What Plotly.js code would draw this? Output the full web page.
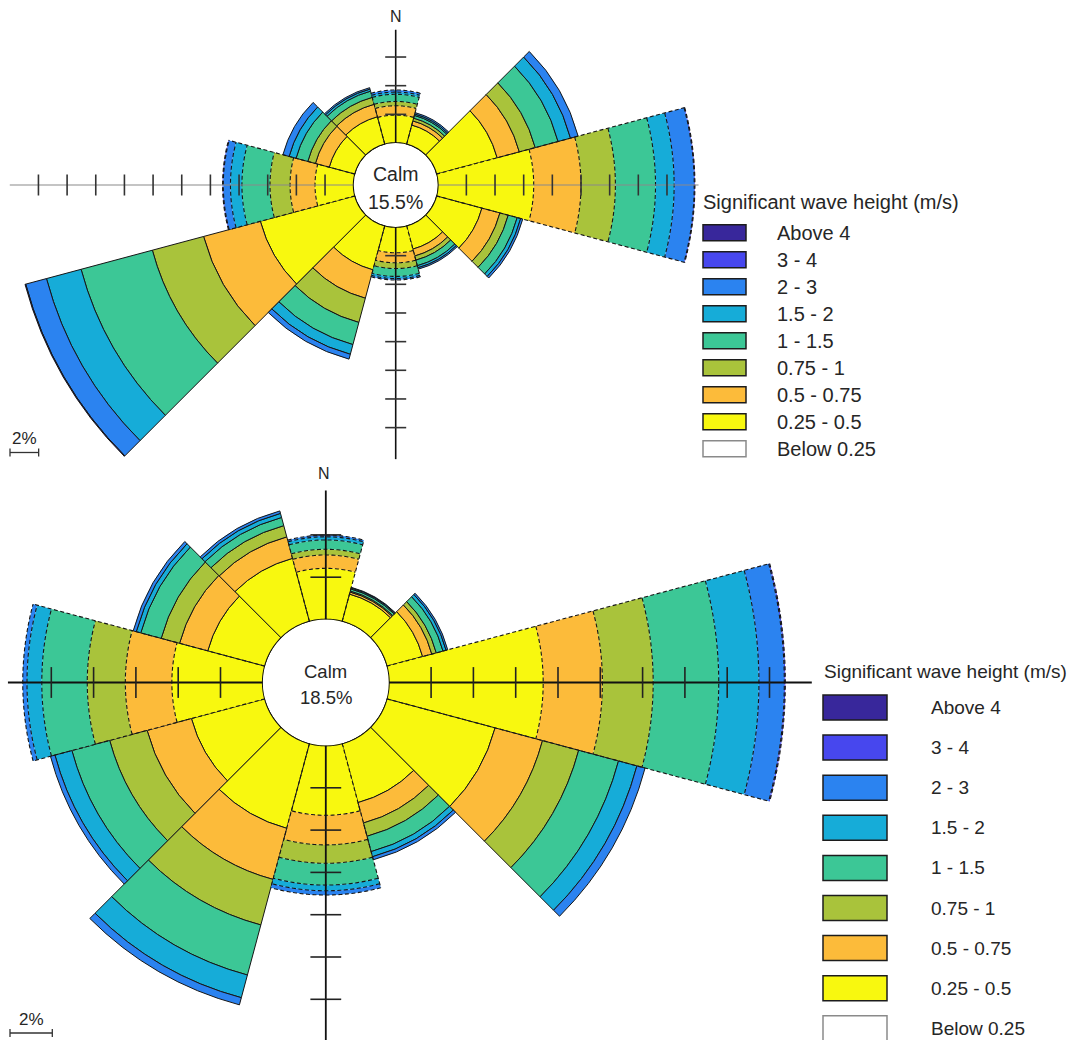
<!DOCTYPE html>
<html>
<head>
<meta charset="utf-8">
<script src="https://cdn.plot.ly/plotly-3.0.1.min.js"></script>
<style>
  html, body { margin: 0; padding: 0; overflow: hidden; background: #fff; width: 1069px; height: 1040px; }
  #rose { position: absolute; left: -170px; top: -210px; width: 1239px; height: 1395px; }
</style>
</head>
<body>
<div id="rose"></div>
<script>
// Sector directions (degrees clockwise from north), 30-degree bins
const directions = [0, 30, 60, 90, 120, 150, 180, 210, 240, 270, 300, 330];
// Cardinal sectors are outlined with dashed strokes
const dashedDirections = [0, 90, 180, 270];

// Significant wave height classes, innermost ring first
const classes = ['Below 0.25', '0.25 - 0.5', '0.5 - 0.75', '0.75 - 1', '1 - 1.5', '1.5 - 2', '2 - 3', '3 - 4', 'Above 4'];
const classColors = ['#ffffff', '#f8f80f', '#fcbb3a', '#a9c33b', '#3cc796', '#16acd8', '#2b83f0', '#4747ee', '#38279b'];

// Upper rose: frequency of occurrence (%) per class and direction
const upperBelow025 = [0, 0, 0, 0, 0, 0, 0, 0, 0, 0, 0, 0];
const upper025to05  = [1.95, 1.40, 4.40, 6.70, 3.30, 1.70, 1.80, 3.20, 6.85, 2.70, 1.87, 2.00];
const upper05to075  = [0.65, 0.30, 1.60, 3.30, 1.30, 0.50, 0.70, 2.05, 4.10, 1.74, 1.00, 0.90];
const upper075to1   = [0.30, 0.20, 1.15, 2.40, 0.60, 0.30, 0.40, 1.75, 3.70, 1.40, 0.55, 0.50];
const upper1to15    = [0.50, 0.20, 1.65, 2.80, 0.65, 0.40, 0.55, 1.60, 5.15, 1.96, 0.85, 0.45];
const upper15to2    = [0.15, 0.10, 0.90, 1.30, 0.25, 0.15, 0.15, 0.70, 2.50, 0.80, 0.50, 0.15];
const upper2to3     = [0.15, 0.10, 0.55, 1.40, 0.15, 0.10, 0.10, 0.35, 1.50, 0.50, 0.45, 0.10];
const upper3to4     = [0, 0, 0, 0.05, 0, 0, 0, 0, 0.05, 0.05, 0, 0];
const upperAbove4   = [0, 0, 0, 0, 0, 0, 0, 0, 0, 0, 0, 0];
const upperCalm = 15.5;

// Lower rose: frequency of occurrence (%) per class and direction
const lowerBelow025 = [0, 0, 0, 0, 0, 0, 0, 0, 0, 0, 0, 0];
const lower025to05  = [2.42, 1.35, 1.76, 7.30, 5.31, 2.90, 3.30, 4.16, 3.60, 4.30, 2.80, 3.10];
const lower05to075  = [0.63, 0.10, 0.45, 2.80, 2.32, 1.00, 1.40, 2.50, 2.17, 2.20, 1.38, 1.05];
const lower075to1   = [0.27, 0.05, 0.22, 2.40, 1.77, 0.65, 0.87, 2.23, 1.83, 1.80, 0.90, 0.55];
const lower1to15    = [0.44, 0.10, 0.33, 3.10, 1.95, 0.75, 1.03, 2.45, 1.85, 2.15, 1.00, 0.40];
const lower15to2    = [0.15, 0.05, 0.15, 1.90, 0.90, 0.25, 0.27, 1.11, 0.83, 0.70, 0.22, 0.20];
const lower2to3     = [0.08, 0.03, 0.08, 1.20, 0.40, 0.15, 0.20, 0.35, 0.22, 0.20, 0.15, 0.12];
const lower3to4     = [0, 0, 0, 0.05, 0, 0, 0, 0, 0, 0, 0, 0];
const lowerAbove4   = [0, 0, 0, 0, 0, 0, 0, 0, 0, 0, 0, 0];
const lowerCalm = 18.5;

// Axis cross: tick spacing (%) and reach of each arm (N, E, S, W) in %
const tickValues = [2, 4, 6, 8, 10, 12, 14, 16, 18, 20, 22, 24];
const axisAngles = [0, 90, 180, 270];
const upperAxisReach = [7.9, 18.2, 16.2, 24.0];
const lowerAxisReach = [6.1, 20.0, 14.6, 12.05];
const scaleBarPct = 2;

const upperSeries = [upperBelow025, upper025to05, upper05to075, upper075to1, upper1to15, upper15to2, upper2to3, upper3to4, upperAbove4];
const lowerSeries = [lowerBelow025, lower025to05, lower05to075, lower075to1, lower1to15, lower15to2, lower2to3, lower3to4, lowerAbove4];

// ---- page geometry (pixels in the visible window) ----
const PAGE = { left: -170, top: -210, w: 1239, h: 1395 };
const fx = x => (x - PAGE.left) / PAGE.w;
const fy = y => 1 - (y - PAGE.top) / PAGE.h;

const upperGeom = { cx: 395.7, cy: 185, hole: 42, pxPerPct: 14.33, outer: 392, tick: 15,
  hColor: '#8a8a8a', vColor: '#111', hWidth: 1.2, vWidth: 1.6, tickColor: '#333',
  nY: 16, nX: 396, calmY: [174, 202], calmFont: 19.5, scaleY: 452.5, scaleTextY: 438, scaleFont: 17,
  legendFont: 20 };
const lowerGeom = { cx: 325.8, cy: 682.5, hole: 63, pxPerPct: 21.15, outer: 490, tick: 22,
  hColor: '#111', vColor: '#111', hWidth: 2, vWidth: 1.8, tickColor: '#222',
  nY: 473, nX: 324, calmY: [671.5, 697], calmFont: 18.5, scaleY: 1033, scaleTextY: 1019, scaleFont: 17,
  legendFont: 19 };

function polarLayout(g) {
  return {
    domain: { x: [fx(g.cx - g.outer), fx(g.cx + g.outer)], y: [fy(g.cy + g.outer), fy(g.cy - g.outer)] },
    hole: g.hole / g.outer,
    bgcolor: 'rgba(0,0,0,0)',
    barmode: 'stack',
    bargap: 0,
    radialaxis: { range: [0, (g.outer - g.hole) / g.pxPerPct], visible: false, showgrid: false, showline: false, showticklabels: false, ticks: '' },
    angularaxis: { rotation: 90, direction: 'clockwise', visible: false, showgrid: false, showline: false, showticklabels: false, ticks: '' }
  };
}

const FONT = 'Liberation Sans, Arial, sans-serif';
const OUTLINE = '#161616';
const data = [];

function addRose(subplot, series) {
  const widths = directions.map(d => dashedDirections.includes(d) ? 0 : 1);
  series.forEach((vals, i) => {
    data.push({
      type: 'barpolar', subplot: subplot, name: classes[i],
      r: vals, theta: directions, width: directions.map(() => 30),
      marker: { color: classColors[i], line: { color: OUTLINE, width: widths } },
      showlegend: false, hoverinfo: 'skip'
    });
  });
}

// dashed outlines of the cardinal sectors: band arcs and both side edges
function addDashedOutlines(subplot, series) {
  directions.forEach((dir, j) => {
    if (!dashedDirections.includes(dir)) return;
    const r = [], t = [];
    let cum = 0, last = 0;
    series.forEach(s => {
      cum += s[j];
      if (cum - last > 1e-6) {
        for (let a = -15; a <= 15; a += 1) { r.push(cum); t.push(dir + a); }
        r.push(null); t.push(null);
        last = cum;
      }
    });
    [-15, 15].forEach(a => { r.push(0, cum, null); t.push(dir + a, dir + a, null); });
    data.push({
      type: 'scatterpolar', subplot: subplot, mode: 'lines', r: r, theta: t,
      connectgaps: false,
      line: { color: OUTLINE, width: 1.1, dash: '4px,2.5px' },
      showlegend: false, hoverinfo: 'skip'
    });
  });
}

function addAxes(subplot, reach, g) {
  axisAngles.forEach((ang, k) => {
    const horizontal = (ang === 90 || ang === 270);
    data.push({
      type: 'scatterpolar', subplot: subplot, mode: 'lines',
      r: [0, reach[k]], theta: [ang, ang],
      line: { color: horizontal ? g.hColor : g.vColor, width: horizontal ? g.hWidth : g.vWidth },
      showlegend: false, hoverinfo: 'skip'
    });
    const ticks = tickValues.filter(t => t < reach[k] - 0.3);
    data.push({
      type: 'scatterpolar', subplot: subplot, mode: 'markers',
      r: ticks, theta: ticks.map(() => ang),
      marker: { symbol: horizontal ? 'line-ns' : 'line-ew', size: g.tick,
        line: { color: g.tickColor, width: 1.6 } },
      showlegend: false, hoverinfo: 'skip'
    });
  });
  // outline of the calm circle
  const ring = Array.from({ length: 181 }, (_, i) => i * 2);
  data.push({
    type: 'scatterpolar', subplot: subplot, mode: 'lines',
    r: ring.map(() => 0), theta: ring,
    line: { color: '#111', width: 1.8 }, showlegend: false, hoverinfo: 'skip'
  });
}

addRose('polar', upperSeries);
addRose('polar2', lowerSeries);
addDashedOutlines('polar', upperSeries);
addDashedOutlines('polar2', lowerSeries);
addAxes('polar', upperAxisReach, upperGeom);
addAxes('polar2', lowerAxisReach, lowerGeom);

const annotations = [];
const shapes = [];

function txt(text, x, y, size, anchor) {
  annotations.push({ text: text, x: fx(x), y: fy(y), xref: 'paper', yref: 'paper',
    xanchor: anchor || 'center', yanchor: 'middle', showarrow: false,
    font: { family: FONT, size: size, color: '#262626' } });
}

function decorate(g, calm) {
  txt('N', g.nX, g.nY, 16);
  txt('Calm', g.cx, g.calmY[0], g.calmFont);
  txt(calm.toFixed(1) + '%', g.cx, g.calmY[1], g.calmFont);
  // 2 % scale bar
  const len = scaleBarPct * g.pxPerPct;
  const x0 = 10, x1 = 10 + len;
  txt(scaleBarPct + '%', (x0 + x1) / 2, g.scaleTextY, g.scaleFont);
  shapes.push({ type: 'line', xref: 'paper', yref: 'paper', x0: fx(x0), x1: fx(x1), y0: fy(g.scaleY), y1: fy(g.scaleY), line: { color: '#333', width: 1.3 } });
  [x0, x1].forEach(x => shapes.push({ type: 'line', xref: 'paper', yref: 'paper', x0: fx(x), x1: fx(x), y0: fy(g.scaleY - 4), y1: fy(g.scaleY + 4), line: { color: '#333', width: 1.3 } }));
}
decorate(upperGeom, upperCalm);
decorate(lowerGeom, lowerCalm);

// legends: highest class on top
function legend(titleX, titleY, swX0, swX1, swH, y0, step, textX, size) {
  txt('Significant wave height (m/s)', titleX, titleY, size, 'left');
  const order = classes.map((c, i) => i).reverse();
  order.forEach((ci, row) => {
    const yc = y0 + row * step;
    shapes.push({ type: 'rect', xref: 'paper', yref: 'paper',
      x0: fx(swX0), x1: fx(swX1), y0: fy(yc + swH / 2), y1: fy(yc - swH / 2),
      fillcolor: classColors[ci], line: { color: ci === 0 ? '#8a8a8a' : '#1c1c1c', width: 1.5 } });
    txt(classes[ci], textX, yc, size, 'left');
  });
}
legend(701, 202, 703, 746, 16, 232.8, 27.0, 775, upperGeom.legendFont);
legend(822, 671.5, 823, 887, 25, 707.5, 40.1, 929, lowerGeom.legendFont);

const layout = {
  width: PAGE.w, height: PAGE.h,
  margin: { l: 0, r: 0, t: 0, b: 0 },
  paper_bgcolor: 'rgba(0,0,0,0)',
  plot_bgcolor: 'rgba(0,0,0,0)',
  showlegend: false,
  polar: polarLayout(upperGeom),
  polar2: polarLayout(lowerGeom),
  annotations: annotations,
  shapes: shapes,
  font: { family: FONT }
};

Plotly.newPlot('rose', data, layout, { staticPlot: true, displayModeBar: false });
</script>
</body>
</html>
